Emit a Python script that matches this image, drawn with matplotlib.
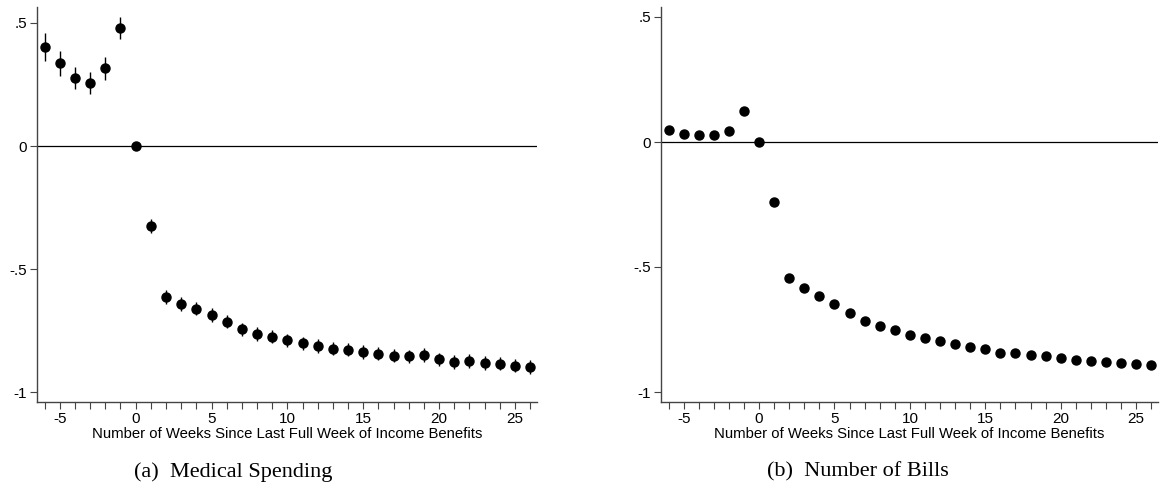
import numpy as np
from matplotlib import pyplot as plt
from matplotlib.ticker import MultipleLocator, FuncFormatter

weeks = np.arange(-6, 27)

# (a) medical spending, point estimates and CI half widths
med = [0.404, 0.336, 0.275, 0.257, 0.316, 0.478, 0.0, -0.325,
       -0.612, -0.642, -0.661, -0.687, -0.714, -0.744, -0.764, -0.775,
       -0.790, -0.802, -0.812, -0.823, -0.828, -0.837, -0.843, -0.852,
       -0.854, -0.849, -0.866, -0.878, -0.873, -0.881, -0.884, -0.892, -0.897]
med_err = [0.057, 0.051, 0.045, 0.044, 0.046, 0.045, 0.0, 0.030,
           0.028, 0.027, 0.027, 0.027, 0.027, 0.027, 0.027, 0.027,
           0.027, 0.027, 0.027, 0.027, 0.027, 0.027, 0.027, 0.027,
           0.027, 0.027, 0.027, 0.027, 0.027, 0.027, 0.027, 0.027, 0.028]

# (b) number of bills
bills = [0.048, 0.033, 0.029, 0.027, 0.044, 0.125, 0.0, -0.239,
         -0.543, -0.584, -0.617, -0.648, -0.684, -0.715, -0.736, -0.752,
         -0.772, -0.785, -0.796, -0.808, -0.820, -0.828, -0.844, -0.845,
         -0.853, -0.856, -0.864, -0.872, -0.875, -0.880, -0.883, -0.888, -0.892]
bills_err = [0.006] * len(bills)

captions = ["(a)  Medical Spending", "(b)  Number of Bills"]
xlabel = "Number of Weeks Since Last Full Week of Income Benefits"

plt.rcParams['font.family'] = 'Liberation Sans'
plt.rcParams['axes.unicode_minus'] = False

W, H = 1162, 487
fig = plt.figure(figsize=(W / 100, H / 100), dpi=100)

panels = [
    (med, med_err, 37, 537, 0.565, 233),
    (bills, bills_err, 661, 1158, 0.54, 858),
]

def fmt(v, pos):
    if abs(v) < 1e-9:
        return "0"
    s = ("%g" % v)
    return s.replace("0.", ".")

for (vals, errs, x0, x1, ytop, capx), cap in zip(panels, captions):
    ax = fig.add_axes([x0 / W, 1 - 402 / H, (x1 - x0) / W, (402 - 7) / H])
    ax.errorbar(weeks, vals, yerr=errs, fmt='o', color='black', ms=6.5,
                elinewidth=1.0, capsize=0)
    ax.axhline(0, color='black', lw=0.9, zorder=0)
    ax.set_xlim(-6.5, 26.45)
    ax.set_ylim(-1.04, ytop)
    for s in ['top', 'right']:
        ax.spines[s].set_visible(False)
    for s in ['left', 'bottom']:
        ax.spines[s].set_color('#444444')
        ax.spines[s].set_linewidth(1.0)
    ax.xaxis.set_major_locator(MultipleLocator(5))
    ax.xaxis.set_minor_locator(MultipleLocator(1))
    ax.yaxis.set_major_locator(MultipleLocator(0.5))
    ax.yaxis.set_major_formatter(FuncFormatter(fmt))
    ax.tick_params(which='both', direction='out', length=5, width=0.8,
                   color='#444444', labelsize=11, pad=2)
    ax.set_xlabel(xlabel, fontsize=10.7, labelpad=1)
    fig.text(capx / W, 1 - 472 / H, cap, ha='center', va='center',
             fontsize=16, family='Liberation Serif')

fig.savefig('out.png', dpi=100)
